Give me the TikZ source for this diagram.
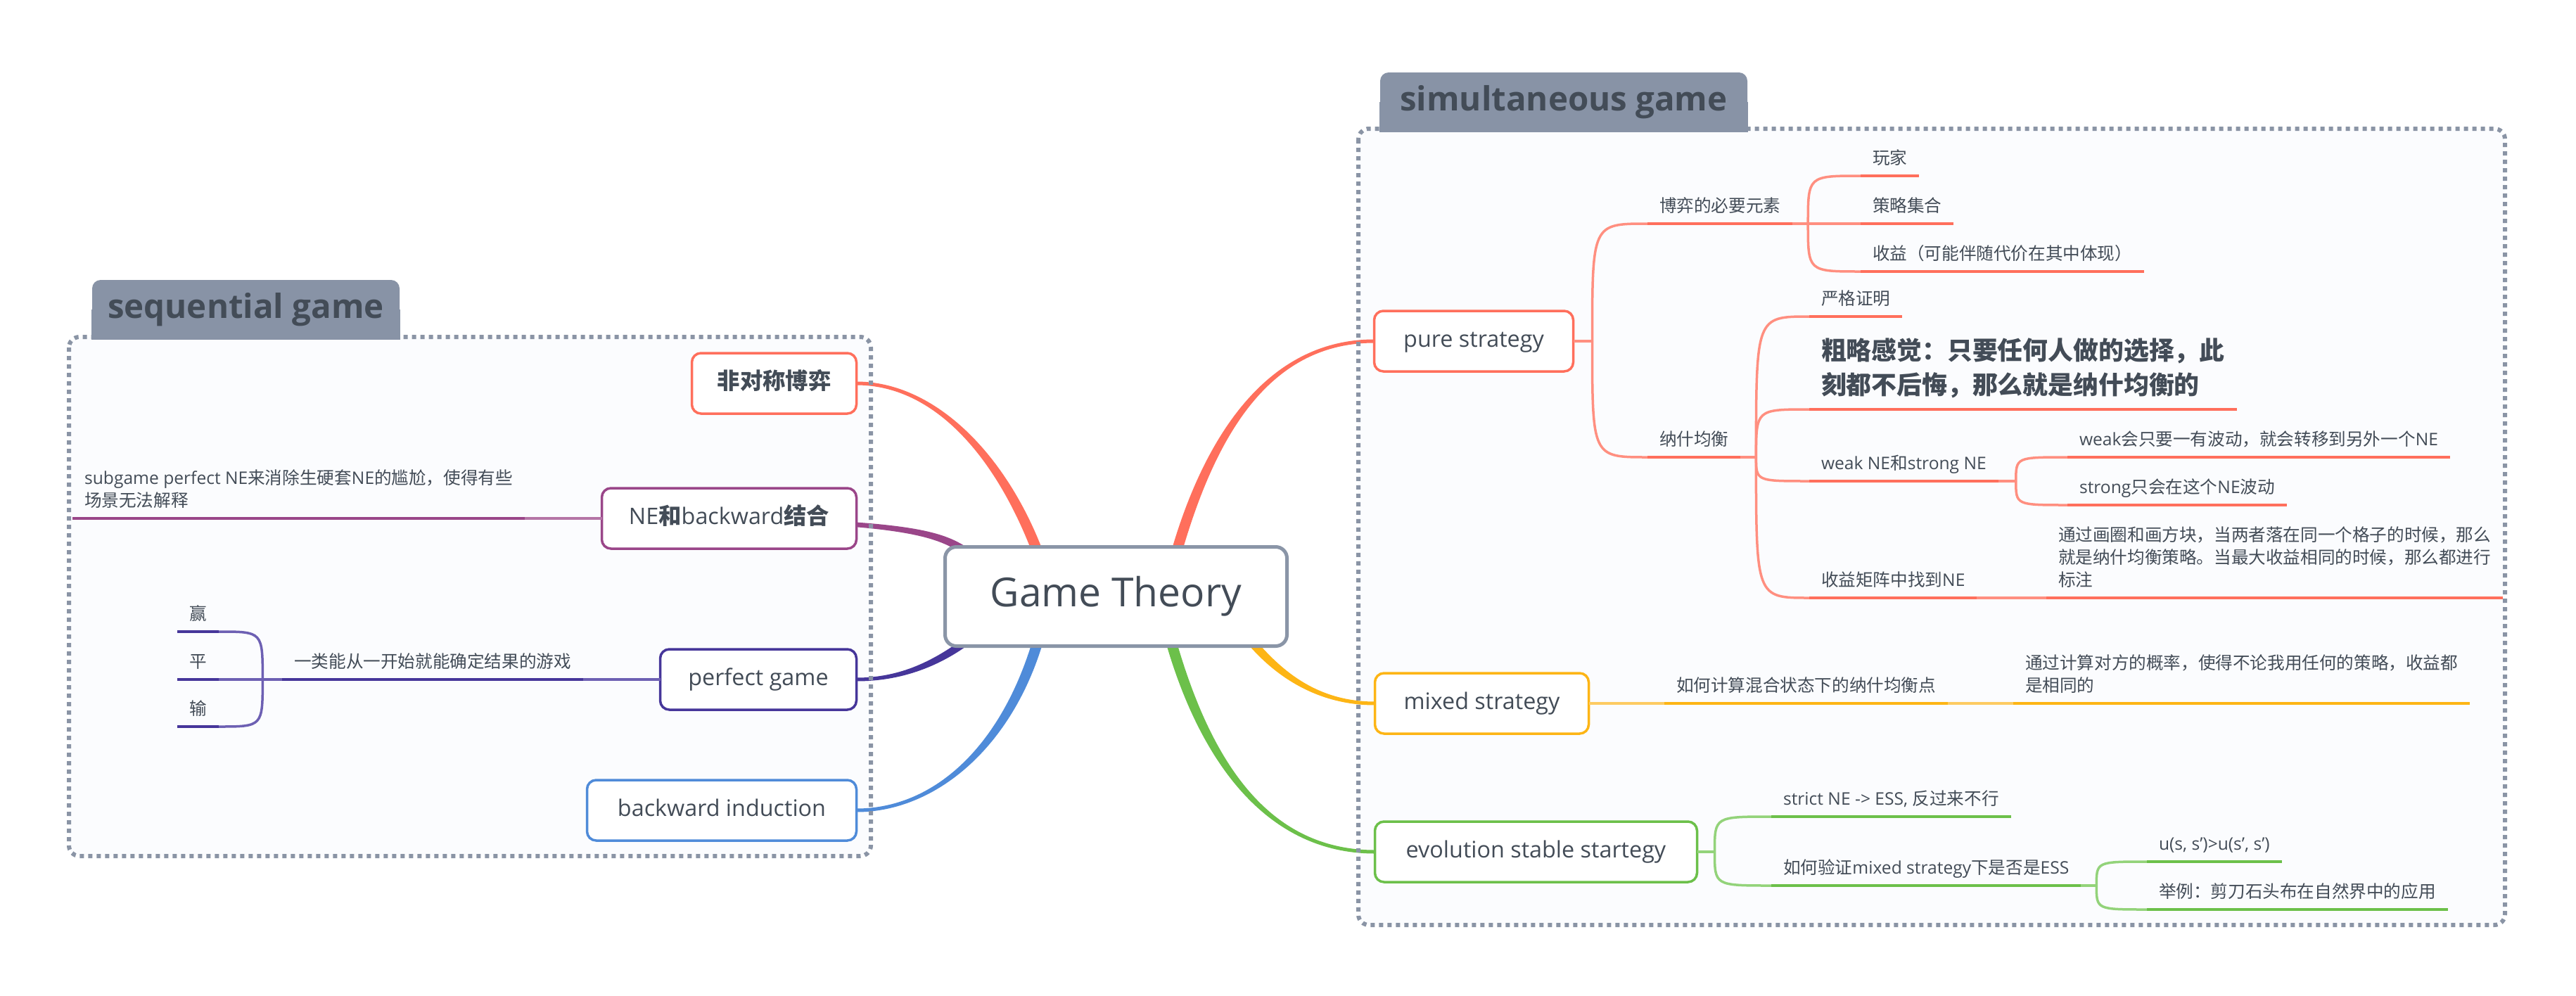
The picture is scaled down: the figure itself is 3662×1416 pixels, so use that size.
\documentclass[tikz,border=0pt]{standalone}
\usepackage{fontspec}
\setmainfont{Open Sans}
\newfontfamily\cjk{Noto Sans CJK SC}
\usetikzlibrary{calc,backgrounds}

% switch to the CJK font for Chinese characters
\newcount\cjkcnt
\chardef\cjkclass=7
\def\setcjkclass#1#2{\cjkcnt=#1 \loop\XeTeXcharclass\cjkcnt=\cjkclass \advance\cjkcnt by 1 \ifnum\cjkcnt<#2 \repeat}
\setcjkclass{"3000}{"3040}
\setcjkclass{"4E00}{"A000}
\setcjkclass{"FF00}{"FFF0}
\def\cjksw{\cjk}
\def\latinsw{\rmfamily\mdseries}
\XeTeXinterchartokenstate=1
\XeTeXinterchartoks 0 \cjkclass = {\cjksw}
\XeTeXinterchartoks 4095 \cjkclass = {\cjksw}
\XeTeXinterchartoks \cjkclass 0 = {\latinsw}

\newcommand\topicfont{\fontsize{9.2pt}{11pt}\selectfont\def\cjksw{\cjk\bfseries}}

\definecolor{txt}{HTML}{434C57}
\definecolor{tabgray}{HTML}{8893A6}
\definecolor{framegray}{HTML}{8A94A5}
\definecolor{framefill}{HTML}{FBFCFE}
\definecolor{rootgray}{HTML}{8A95A7}
\definecolor{redM}{HTML}{FF6F5C}
\definecolor{redL}{HTML}{FF8F80}
\definecolor{yelM}{HTML}{FDB515}
\definecolor{yelL}{HTML}{FDCB62}
\definecolor{grnM}{HTML}{6CC04A}
\definecolor{grnL}{HTML}{93D37A}
\definecolor{purM}{HTML}{9A4689}
\definecolor{purL}{HTML}{B475A6}
\definecolor{dpuM}{HTML}{46369A}
\definecolor{dpuL}{HTML}{6D60B3}
\definecolor{bluM}{HTML}{4F8BD9}

% tapered main branch: colour, start, control 1, control 2, end, half width at start, half width at end
\newcommand\mainbranch[7]{%
  \fill[#1] ($(#2)!#6!90:(#3)$) .. controls ($(#3)!#6!-90:(#2)$) and ($(#4)!#7!90:(#5)$) .. ($(#5)!#7!-90:(#4)$)
    -- ($(#5)!#7!90:(#4)$) .. controls ($(#4)!#7!-90:(#5)$) and ($(#3)!#6!90:(#2)$) .. ($(#2)!#6!-90:(#3)$) -- cycle;}

\begin{document}
\begin{tikzpicture}[x=0.1mm, y=-0.1mm,
  root/.style={draw=rootgray, line width=0.5mm, rounded corners=1.6mm, fill=white, minimum width=48.6mm,
    minimum height=14.1mm, inner sep=0pt, outer sep=0pt, text=txt, text height=4.2mm, text depth=1.4mm,
    font=\fontsize{16.2pt}{19pt}\selectfont},
  topic/.style={draw=#1, line width=0.35mm, rounded corners=1.3mm, fill=white, inner sep=0pt, outer sep=0pt,
    minimum height=8.6mm, text=txt, text height=2.4mm, text depth=0.8mm, font=\topicfont},
  tab/.style={fill=tabgray, rounded corners=1.2mm, inner sep=0pt, minimum height=8.4mm, text=txt,
    font=\bfseries\fontsize{13.5pt}{16pt}\selectfont},
  frame/.style={draw=framegray, line width=0.6mm, dash pattern=on 0.6mm off 0.6mm, rounded corners=1.5mm},
  sub/.style={inner xsep=1.7mm, inner ysep=0pt, outer sep=0pt, text depth=1.7mm, align=left, text=txt,
    font=\fontsize{7pt}{9pt}\selectfont},
  rsub/.style={sub, anchor=south west},
  lsub/.style={sub, anchor=south east},
  uline/.style={draw=#1, line width=0.4mm},
  twig/.style={draw=#1, line width=0.35mm}]
  \useasboundingbox (0,0) rectangle (3662,1416);

  % Center
  \node[root] (root) at (1586.5,848) {Game Theory};

  % Tabs
  \node[tab, minimum width=43.7mm] (seqtab) at (349.5,440) {sequential game};
  \node[tab, minimum width=52.2mm] (simtab) at (2223,145) {simultaneous game};

  % Topics
  \node[topic=redM, minimum width=23.4mm] (asym) at (1100.5,545) {非对称博弈};
  \node[topic=purM, minimum width=36.2mm] (nebw) at (1036.5,737) {NE和backward结合};
  \node[topic=dpuM, minimum width=27.9mm] (perf) at (1078,966) {perfect game};
  \node[topic=bluM, minimum width=38.3mm] (bwi) at (1026,1152) {backward induction};
  \node[topic=redM, minimum width=28.3mm] (pure) at (2095,485) {pure strategy};
  \node[topic=yelM, minimum width=30.4mm] (mixed) at (2106.5,1000) {mixed strategy};
  \node[topic=grnM, minimum width=45.8mm] (ess) at (2183.5,1211) {evolution stable startegy};

  % Left subtopics
  \node[lsub] (spne) at (746,737) {subgame perfect NE来消除生硬套NE的尴尬，使得有些\\场景无法解释};
  \node[lsub] (onego) at (829,966) {一类能从一开始就能确定结果的游戏};
  \coordinate (onegoB) at ($(onego.south west)+(-28,0)$);
  \node[lsub] (win) at (311,898) {赢};
  \node[lsub] (tie) at (311,966) {平};
  \node[lsub] (lose) at (311,1033) {输};

  % Right subtopics
  \coordinate (pureB) at ($(pure.east)+(27,0)$);
  \node[rsub] (elem) at (2342,318) {博弈的必要元素};
  \coordinate (elemB) at ($(elem.south east)+(22,0)$);
  \node[rsub] (player) at (2645,250) {玩家};
  \node[rsub] (strat) at (2645,318) {策略集合};
  \node[rsub] (payoff) at (2645,386) {收益（可能伴随代价在其中体现）};
  \node[rsub] (ne) at (2342,650) {纳什均衡};
  \coordinate (neB) at ($(ne.south east)+(22,0)$);
  \node[rsub] (proof) at (2572,450) {严格证明};
  \node[rsub, text depth=2.2mm, font=\bfseries\fontsize{10.2pt}{13.7pt}\selectfont] (rough) at (2572,582)
    {粗略感觉：只要任何人做的选择，此\\刻都不后悔，那么就是纳什均衡的};
  \node[rsub] (weak) at (2572,684) {weak NE和strong NE};
  \coordinate (weakB) at ($(weak.south east)+(25,0)$);
  \node[rsub] (weak1) at (2939,650) {weak会只要一有波动，就会转移到另外一个NE};
  \node[rsub] (weak2) at (2939,718) {strong只会在这个NE波动};
  \node[rsub] (mat) at (2572,850) {收益矩阵中找到NE};
  \node[rsub] (matD) at (2909,850) {通过画圈和画方块，当两者落在同一个格子的时候，那么\\就是纳什均衡策略。当最大收益相同的时候，那么都进行\\标注};
  \node[rsub] (calc) at (2366,1000) {如何计算混合状态下的纳什均衡点};
  \node[rsub] (calcD) at (2862,1000) {通过计算对方的概率，使得不论我用任何的策略，收益都\\是相同的};
  \coordinate (essB) at ($(ess.east)+(25,0)$);
  \node[rsub] (strict) at (2518,1161) {strict NE -> ESS, 反过来不行};
  \node[rsub] (verify) at (2518,1259) {如何验证mixed strategy下是否是ESS};
  \coordinate (verifyB) at ($(verify.south east)+(22,0)$);
  \node[rsub] (ineq) at (3052,1225) {u(s, s')>u(s', s')};
  \node[rsub] (rps) at (3052,1293) {举例：剪刀石头布在自然界中的应用};

  % Twigs
  \foreach \a/\b in {pureB/elem,pureB/ne,elemB/player,elemB/strat,elemB/payoff,neB/proof,neB/rough,neB/weak,neB/mat,weakB/weak1,weakB/weak2}
    \draw[twig=redL] (\a) .. controls (\a |- \b.south west) .. (\b.south west);
  \foreach \a/\b in {pure.east/pureB,elem.south east/elemB,ne.south east/neB,weak.south east/weakB,mat.south east/matD.south west}
    \draw[twig=redL] (\a) -- (\b);
  \draw[twig=yelL] (mixed.east) -- (calc.south west);
  \draw[twig=yelL] (calc.south east) -- (calcD.south west);
  \foreach \a/\b in {essB/strict,essB/verify,verifyB/ineq,verifyB/rps}
    \draw[twig=grnL] (\a) .. controls (\a |- \b.south west) .. (\b.south west);
  \draw[twig=grnL] (ess.east) -- (essB);
  \draw[twig=grnL] (verify.south east) -- (verifyB);
  \draw[twig=purL] (nebw.west) -- (spne.south east);
  \draw[twig=dpuL] (perf.west) -- (onego.south east);
  \draw[twig=dpuL] (onego.south west) -- (onegoB);
  \foreach \b in {win,tie,lose}
    \draw[twig=dpuL] (onegoB) .. controls (onegoB |- \b.south east) .. (\b.south east);

  % Underlines
  \foreach \n in {elem,player,strat,payoff,ne,proof,rough,weak,weak1,weak2,mat,matD}
    \draw[uline=redM] (\n.south west) -- (\n.south east);
  \foreach \n in {calc,calcD}
    \draw[uline=yelM] (\n.south west) -- (\n.south east);
  \foreach \n in {strict,verify,ineq,rps}
    \draw[uline=grnM] (\n.south west) -- (\n.south east);
  \draw[uline=purM] (spne.south west) -- (spne.south east);
  \foreach \n in {onego,win,tie,lose}
    \draw[uline=dpuM] (\n.south west) -- (\n.south east);

  \begin{pgfonlayer}{background}
    % Frame areas
    \fill[framefill, rounded corners=1.5mm] (98,479) rectangle (1238,1217);
    \fill[framefill, rounded corners=1.5mm] (1931,183) rectangle (3561,1315);
    % Main branches
    \coordinate (gtPure) at ($(root.center)+(84.5,-58)$);
    \coordinate (gtAsym) at ($(root.center)+(-109.5,-58)$);
    \coordinate (gtNebw) at ($(root.center)+(-211.5,-63)$);
    \coordinate (gtPerf) at ($(root.center)+(-211.5,63)$);
    \coordinate (gtBwi) at ($(root.center)+(-109.5,58)$);
    \coordinate (gtMixed) at ($(root.center)+(190.5,62)$);
    \coordinate (gtEss) at ($(root.center)+(76.5,58)$);
    \mainbranch{redM}{gtPure}{1718,625}{1800,485}{pure.west}{0.75mm}{0.25mm}
    \mainbranch{redM}{gtAsym}{1425,650}{1330,545}{asym.east}{0.75mm}{0.25mm}
    \mainbranch{purM}{gtNebw}{1330,755}{1280,737}{nebw.west}{0.55mm}{0.25mm}
    \mainbranch{dpuM}{gtPerf}{1330,944}{1280,966}{perf.east}{0.55mm}{0.25mm}
    \mainbranch{bluM}{gtBwi}{1433,1060}{1330,1152}{bwi.east}{0.75mm}{0.25mm}
    \mainbranch{yelM}{gtMixed}{1815,955}{1870,1000}{mixed.west}{0.6mm}{0.25mm}
    \mainbranch{grnM}{gtEss}{1712,1080}{1800,1211}{ess.west}{0.75mm}{0.25mm}
    % Frames
    \draw[frame] (98,479) rectangle (1238,1217);
    \draw[frame] (1931,183) rectangle (3561,1315);
    \fill[tabgray] (seqtab.west) rectangle (seqtab.south east);
    \fill[tabgray] (simtab.west) rectangle (simtab.south east);
  \end{pgfonlayer}
\end{tikzpicture}
\end{document}
